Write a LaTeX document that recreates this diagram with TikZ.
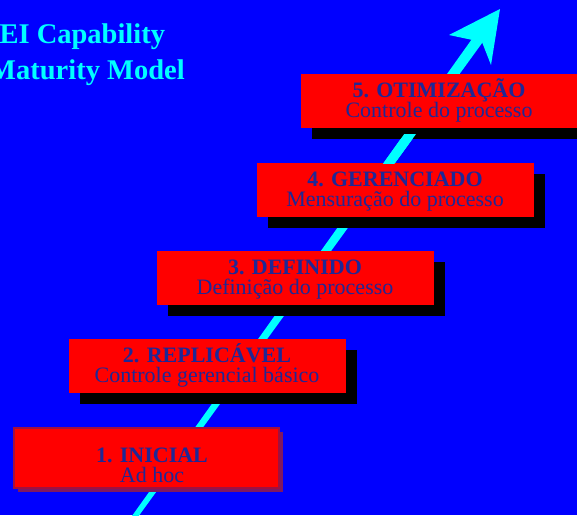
\documentclass[tikz,border=0pt]{standalone}
\usepackage{fontspec}
\setmainfont{Liberation Serif}
\definecolor{bgblue}{RGB}{0,0,255}
\definecolor{arrowcyan}{RGB}{0,255,255}
\definecolor{boxred}{RGB}{255,0,0}
\definecolor{txtblue}{RGB}{30,40,150}
\definecolor{firstborder}{RGB}{160,16,64}
\definecolor{firstshadow}{RGB}{128,24,96}
\tikzset{
  stagebox/.style={rectangle, fill=boxred, inner sep=0pt, outer sep=0pt, minimum width=277pt, minimum height=54pt},
  firstbox/.style={rectangle, fill=boxred, draw=firstborder, line width=1.2pt, inner sep=0pt, outer sep=0pt, minimum width=265pt, minimum height=60pt},
  shadowbox/.style={rectangle, fill=black, inner sep=0pt, outer sep=0pt, minimum width=277pt, minimum height=54pt},
  firstshadowbox/.style={rectangle, fill=firstshadow, inner sep=0pt, outer sep=0pt, minimum width=265pt, minimum height=60pt},
  levelname/.style={anchor=base, inner sep=0pt, text=txtblue, font=\fontsize{22}{22}\selectfont\bfseries},
  leveldesc/.style={anchor=base, inner sep=0pt, text=txtblue, font=\fontsize{22}{22}\selectfont},
  titletext/.style={anchor=base west, inner sep=0pt, text=arrowcyan, font=\fontsize{28.5}{34}\selectfont\bfseries},
  arrowfill/.style={fill=arrowcyan}
}
\begin{document}
\begin{tikzpicture}[x=1pt,y=-1pt]
\useasboundingbox (0,0) rectangle (577,515);
\fill[bgblue] (0,0) rectangle (577,515);
% arrow geometry
\coordinate (tbl) at (131.6,516.5);
\coordinate (tbr) at (136.0,519.7);
\coordinate (ttl) at (475.3,34.3);
\coordinate (ttr) at (483.9,40.5);
\coordinate (tip) at (500,9);
\coordinate (barbl) at (449,35);
\coordinate (notch) at (482,42);
\coordinate (barbr) at (491,65);
\fill[arrowfill] (tbl) -- (ttl) -- (ttr) -- (tbr) -- cycle;
\fill[arrowfill] (tip) -- (barbl) -- (notch) -- (barbr) -- cycle;
% level 1
\node[firstshadowbox] (s1) at (150.25,461.5) {};
\node[firstbox] (b1) at (146.5,458) {};
\node[levelname] (n1) at (152,462) {1. INICIAL};
\node[leveldesc] (d1) at (152,482) {Ad hoc};
% level 2
\node[shadowbox] (s2) at (218.5,377) {};
\node[stagebox] (b2) at (207.5,366) {};
\node[levelname] (n2) at (207,362) {2. REPLICÁVEL};
\node[leveldesc] (d2) at (207,382) {Controle gerencial básico};
% level 3
\node[shadowbox] (s3) at (306.5,289) {};
\node[stagebox] (b3) at (295.5,278) {};
\node[levelname] (n3) at (295,274) {3. DEFINIDO};
\node[leveldesc] (d3) at (295,294) {Definição do processo};
% level 4
\node[shadowbox] (s4) at (406.5,200.5) {};
\node[stagebox] (b4) at (395.5,189.5) {};
\node[levelname] (n4) at (395,186) {4. GERENCIADO};
\node[leveldesc] (d4) at (395,206) {Mensuração do processo};
% level 5
\node[shadowbox] (s5) at (450.5,112) {};
\begin{scope}
\clip (380,134) rectangle (430,163);
\fill[arrowfill] (tbl) -- (ttl) -- (ttr) -- (tbr) -- cycle;
\end{scope}
\node[stagebox] (b5) at (439.5,101) {};
\node[levelname] (n5) at (439,97) {5. OTIMIZAÇÃO};
\node[leveldesc] (d5) at (439,117) {Controle do processo};
% title
\node[titletext] (t1) at (-16.5,43) {SEI Capability};
\node[titletext] (t2) at (-11,79) {Maturity Model};
\end{tikzpicture}
\end{document}
